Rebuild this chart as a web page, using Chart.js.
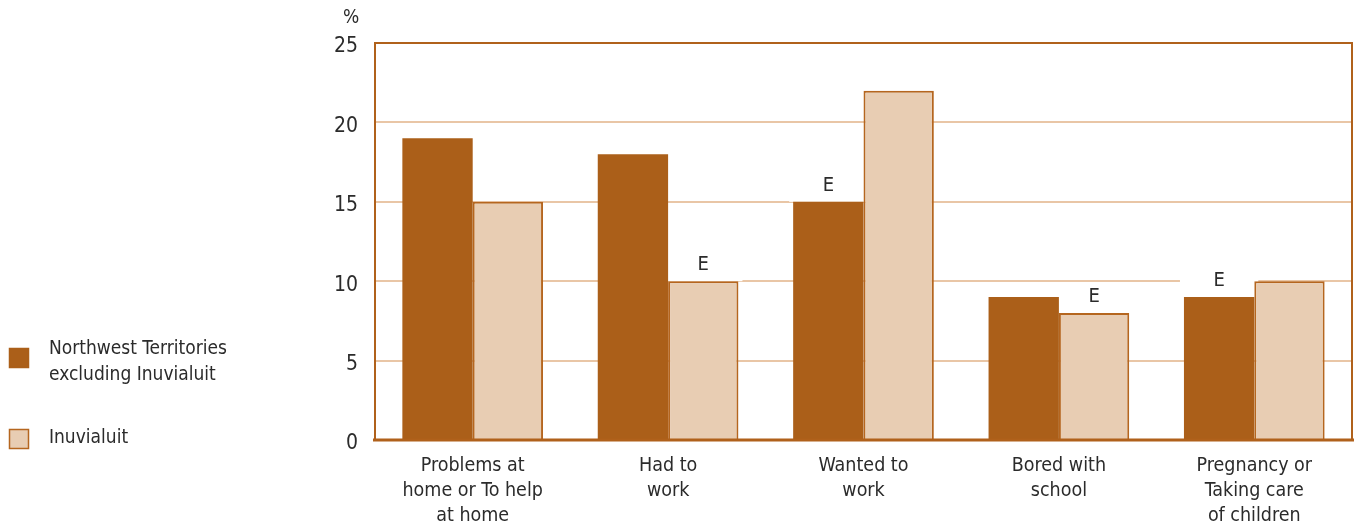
<!DOCTYPE html>
<html>
<head>
<meta charset="utf-8">
<script src="https://cdn.jsdelivr.net/npm/chart.js@4"></script>
<style>
  html, body { margin: 0; padding: 0; background: #fff; }
  #wrap { width: 1354px; height: 527px; }
</style>
</head>
<body>
<div id="wrap"><canvas id="chart" width="1354" height="527"></canvas></div>
<script>
const categories = [
  ["Problems at", "home or To help", "at home"],
  ["Had to", "work"],
  ["Wanted to", "work"],
  ["Bored with", "school"],
  ["Pregnancy or", "Taking care", "of children"]
];
const nwtValues = [19, 18, 15, 9, 9];
const inuValues = [15, 10, 22, 8, 10];
// "E" = use with caution
const nwtFlags = ["", "", "E", "", "E"];
const inuFlags = ["", "E", "", "E", ""];
const seriesNames = [["Northwest Territories", "excluding Inuvialuit"], ["Inuvialuit"]];
const yTicks = [0, 5, 10, 15, 20, 25];

const dark = "#AB5F19";
const light = "#E8CDB3";
const lightBorder = "#B5661F";
const frame = "#B0611B";
const grid = "#E9C6A6";
const textColor = "#2b2b2b";
const font = "'Liberation Sans Narrow', 'DejaVu Sans Condensed', sans-serif";

function eachFlag(chart, fn) {
  [nwtFlags, inuFlags].forEach((flags, di) => {
    const meta = chart.getDatasetMeta(di);
    flags.forEach((f, i) => { if (f) fn(f, meta.data[i]); });
  });
}

const extras = {
  id: "extras",
  beforeDatasetsDraw(chart) {
    // white patch behind flags, hides the gridline
    const ctx = chart.ctx;
    ctx.save();
    ctx.fillStyle = "#fff";
    eachFlag(chart, (f, bar) => {
      ctx.fillRect(bar.x - bar.width / 2 - 4, bar.y - 30, bar.width + 8, 30);
    });
    ctx.restore();
  },
  afterDatasetsDraw(chart) {
    const ctx = chart.ctx;
    const a = chart.chartArea;
    ctx.save();
    ctx.font = "20px " + font;
    ctx.textAlign = "center";
    ctx.textBaseline = "middle";
    ctx.fillStyle = textColor;
    eachFlag(chart, (f, bar) => ctx.fillText(f, bar.x, bar.y - 16));
    // frame
    ctx.strokeStyle = frame;
    ctx.lineWidth = 2;
    ctx.beginPath();
    ctx.moveTo(a.left, a.bottom);
    ctx.lineTo(a.left, a.top);
    ctx.lineTo(a.right, a.top);
    ctx.lineTo(a.right, a.bottom);
    ctx.stroke();
    ctx.lineWidth = 3;
    ctx.beginPath();
    ctx.moveTo(a.left - 2, a.bottom);
    ctx.lineTo(a.right + 2, a.bottom);
    ctx.stroke();
    // unit label
    ctx.fillStyle = textColor;
    ctx.font = "19px " + font;
    ctx.fillText("%", 351, 18);
    // legend
    const items = [
      { y: 348, fill: dark, border: dark, names: seriesNames[0], ty: 349 },
      { y: 429, fill: light, border: lightBorder, names: seriesNames[1], ty: 438 }
    ];
    ctx.textAlign = "left";
    ctx.font = "19px " + font;
    items.forEach(it => {
      ctx.fillStyle = it.fill;
      ctx.fillRect(9, it.y, 20, 20);
      ctx.strokeStyle = it.border;
      ctx.lineWidth = 1.5;
      ctx.strokeRect(9.5, it.y + 0.5, 19, 19);
      ctx.fillStyle = textColor;
      it.names.forEach((n, k) => ctx.fillText(n, 49, it.ty + k * 26));
    });
    ctx.restore();
  }
};

new Chart(document.getElementById("chart"), {
  type: "bar",
  data: {
    labels: categories,
    datasets: [
      {
        label: seriesNames[0].join(" "),
        data: nwtValues,
        backgroundColor: dark,
        borderColor: dark,
        borderWidth: 0,
        categoryPercentage: 0.72,
        barPercentage: 1
      },
      {
        label: seriesNames[1][0],
        data: inuValues,
        backgroundColor: light,
        borderColor: lightBorder,
        borderWidth: 2,
        categoryPercentage: 0.72,
        barPercentage: 1
      }
    ]
  },
  options: {
    responsive: false,
    animation: false,
    layout: { padding: { left: 300, right: 2, top: 43, bottom: 0 } },
    plugins: {
      legend: { display: false },
      tooltip: { enabled: false }
    },
    scales: {
      x: {
        grid: { display: false },
        border: { display: false },
        ticks: {
          color: textColor,
          font: { family: font, size: 19.5, lineHeight: 1.3 },
          padding: 5,
          maxRotation: 0
        },
        afterFit(s) { s.height = 87; }
      },
      y: {
        min: 0,
        max: 25,
        afterBuildTicks(s) { s.ticks = yTicks.map(v => ({ value: v })); },
        grid: { color: grid, lineWidth: 2, drawTicks: false },
        border: { display: false },
        ticks: {
          color: textColor,
          font: { family: font, size: 21 },
          padding: 17,
          labelOffset: 4
        },
        afterFit(s) { s.width = 75; }
      }
    }
  },
  plugins: [extras]
});
</script>
</body>
</html>
